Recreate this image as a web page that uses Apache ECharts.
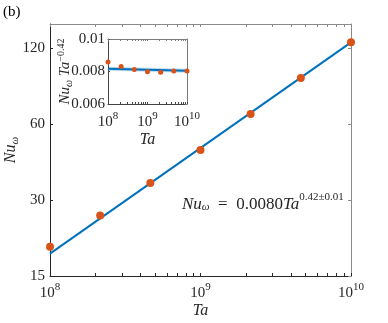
<!DOCTYPE html>
<html>
<head>
<meta charset="utf-8">
<script src="https://cdn.jsdelivr.net/npm/echarts@6/dist/echarts.min.js"></script>
<style>
  html, body { margin: 0; padding: 0; background: #fff; }
  #chart { width: 388px; height: 323px; }
</style>
</head>
<body>
<div id="chart"></div>
<script>
// data
var taValues = [1e8, 2.154e8, 4.642e8, 1e9, 2.154e9, 4.642e9, 1e10];
var nuValues = [19.6, 26.1, 35.1, 47.4, 65.9, 91.6, 127.0];
var compValues = [0.00859, 0.00831, 0.00813, 0.00799, 0.00795, 0.00803, 0.00803];
var fitTa = [1e8, 1e10];
var fitNu = [18.4, 126.8];
var fitComp = [0.00817, 0.00805];
var xDecades = [8, 9, 10];
var mainYTicks = [15, 30, 60, 120];
var insetYTicks = [0.006, 0.008, 0.01];

var SERIF = 'Liberation Serif, DejaVu Serif, serif';
var log10 = Math.log10;

// minor ticks at k*10^n (log axes drawn on log10 values)
var xTickVals = [];
xDecades.forEach(function (n, i) {
  if (i === xDecades.length - 1) { xTickVals.push(n); return; }
  for (var k = 1; k <= 9; k++) xTickVals.push(n + log10(k));
});

function pairs(xs, ys, fx, fy) {
  return xs.map(function (x, i) { return [fx(x), fy(ys[i])]; });
}
var ident = function (v) { return v; };

function powLabel(size) {
  return {
    customValues: xDecades,
    fontFamily: SERIF,
    color: '#262626',
    formatter: function (v) { return '{b|10}{s|' + Math.round(v) + '}'; },
    rich: {
      b: { fontFamily: SERIF, fontSize: size, lineHeight: size + 4, verticalAlign: 'bottom', color: '#262626' },
      s: { fontFamily: SERIF, fontSize: size - 4, lineHeight: size - 4, verticalAlign: 'top', color: '#262626' }
    }
  };
}

function boxAxis(gridIndex, position, ticks, color) {
  return {
    type: 'value', gridIndex: gridIndex, position: position,
    axisLine: { show: true, onZero: false, lineStyle: { color: color, width: 1 } },
    axisTick: { show: true, inside: true, length: 3, customValues: ticks, lineStyle: { color: color } },
    axisLabel: { show: false },
    splitLine: { show: false }
  };
}

var mainYMin = log10(15), mainYMax = log10(150);

var topMain = boxAxis(0, 'top', xTickVals, '#8a8a8a');
topMain.min = 8; topMain.max = 10;
var rightMain = boxAxis(0, 'right', mainYTicks.map(log10), '#8a8a8a');
rightMain.min = mainYMin; rightMain.max = mainYMax;
var topInset = boxAxis(1, 'top', xTickVals, '#7a7a7a');
topInset.min = 8; topInset.max = 10; topInset.axisTick.length = 2;
var rightInset = boxAxis(1, 'right', insetYTicks, '#7a7a7a');
rightInset.min = 0.006; rightInset.max = 0.01; rightInset.axisTick.length = 2;

var option = {
  animation: false,
  backgroundColor: '#fff',
  grid: [
    { left: 50, top: 24, width: 301, height: 252, containLabel: false, outerBoundsMode: 'none' },
    { left: 108, top: 39, width: 79, height: 65, containLabel: false, outerBoundsMode: 'none' }
  ],
  xAxis: [
    {
      type: 'value', gridIndex: 0, position: 'bottom', min: 8, max: 10,
      axisLine: { show: true, onZero: false, lineStyle: { color: '#262626' } },
      axisTick: { show: true, inside: true, length: 3, customValues: xTickVals, lineStyle: { color: '#262626' } },
      axisLabel: Object.assign(powLabel(15), { margin: 6 }),
      splitLine: { show: false },
      name: 'Ta', nameLocation: 'middle', nameGap: 27, nameMoveOverlap: false,
      nameTextStyle: { fontFamily: SERIF, fontStyle: 'italic', fontSize: 16, color: '#262626' }
    },
    topMain,
    {
      type: 'value', gridIndex: 1, position: 'bottom', min: 8, max: 10,
      axisLine: { show: true, onZero: false, lineStyle: { color: '#444' } },
      axisTick: { show: true, inside: true, length: 2, customValues: xTickVals, lineStyle: { color: '#444' } },
      axisLabel: Object.assign(powLabel(15), { margin: 7 }),
      splitLine: { show: false },
      name: 'Ta', nameLocation: 'middle', nameGap: 28, nameMoveOverlap: false,
      nameTextStyle: { fontFamily: SERIF, fontStyle: 'italic', fontSize: 16, color: '#262626' }
    },
    topInset
  ],
  yAxis: [
    {
      type: 'value', gridIndex: 0, position: 'left', min: mainYMin, max: mainYMax,
      axisLine: { show: true, onZero: false, lineStyle: { color: '#262626' } },
      axisTick: { show: true, inside: true, length: 3, customValues: mainYTicks.map(log10), lineStyle: { color: '#262626' } },
      axisLabel: {
        customValues: mainYTicks.map(log10), margin: 5,
        fontFamily: SERIF, fontSize: 15, color: '#262626',
        formatter: function (v) { return String(Math.round(Math.pow(10, v))); }
      },
      splitLine: { show: false },
      name: '{i|Nu}{w|ω}', nameLocation: 'middle', nameRotate: 90, nameGap: 29, nameMoveOverlap: false,
      nameTextStyle: {
        color: '#262626',
        rich: {
          i: { fontFamily: SERIF, fontStyle: 'italic', fontSize: 16, lineHeight: 18, verticalAlign: 'top', color: '#262626' },
          w: { fontFamily: SERIF, fontStyle: 'italic', fontSize: 11, lineHeight: 11, verticalAlign: 'bottom', color: '#262626' }
        }
      }
    },
    rightMain,
    {
      type: 'value', gridIndex: 1, position: 'left', min: 0.006, max: 0.01,
      axisLine: { show: true, onZero: false, lineStyle: { color: '#444' } },
      axisTick: { show: true, inside: true, length: 2, customValues: insetYTicks, lineStyle: { color: '#444' } },
      axisLabel: {
        customValues: insetYTicks, margin: 3,
        fontFamily: SERIF, fontSize: 15, color: '#262626',
        formatter: function (v) { return String(+v.toFixed(3)); }
      },
      splitLine: { show: false },
      name: '{i|Nu}{w|ω}{i| Ta}{s|−0.42}', nameLocation: 'middle', nameRotate: 90, nameGap: 34, nameMoveOverlap: false,
      nameTextStyle: {
        color: '#262626',
        rich: {
          i: { fontFamily: SERIF, fontStyle: 'italic', fontSize: 15, lineHeight: 18, verticalAlign: 'middle', color: '#262626' },
          w: { fontFamily: SERIF, fontStyle: 'italic', fontSize: 10, lineHeight: 10, verticalAlign: 'bottom', color: '#262626' },
          s: { fontFamily: SERIF, fontSize: 10, lineHeight: 10, verticalAlign: 'top', color: '#262626' }
        }
      }
    },
    rightInset
  ],
  series: [
    {
      type: 'line', xAxisIndex: 0, yAxisIndex: 0, showSymbol: false, z: 2,
      lineStyle: { color: '#0072BD', width: 2 },
      data: pairs(fitTa, fitNu, log10, log10)
    },
    {
      type: 'scatter', xAxisIndex: 0, yAxisIndex: 0, symbolSize: 8, z: 3,
      itemStyle: { color: '#D95319', opacity: 1 },
      data: pairs(taValues, nuValues, log10, log10)
    },
    {
      type: 'line', xAxisIndex: 2, yAxisIndex: 2, showSymbol: false, z: 2,
      lineStyle: { color: 'rgba(0,114,189,0.25)', width: 4 },
      data: pairs(fitTa, fitComp, log10, ident)
    },
    {
      type: 'line', xAxisIndex: 2, yAxisIndex: 2, showSymbol: false, z: 2,
      lineStyle: { color: '#0072BD', width: 2 },
      data: pairs(fitTa, fitComp, log10, ident)
    },
    {
      type: 'scatter', xAxisIndex: 2, yAxisIndex: 2, symbolSize: 5, z: 3,
      itemStyle: { color: '#D95319', opacity: 1 },
      data: pairs(taValues, compValues, log10, ident)
    }
  ],
  graphic: [
    {
      type: 'text', left: 3, top: 5,
      style: { text: '(b)', fontFamily: SERIF, fontSize: 15, fill: '#000' }
    },
    {
      type: 'text', left: 182, top: 192,
      style: {
        text: '{i|Nu}{w|ω}{r|  =  0.0080}{i|Ta}{s|0.42±0.01}',
        rich: {
          i: { fontFamily: SERIF, fontStyle: 'italic', fontSize: 17, lineHeight: 21, verticalAlign: 'bottom', fill: '#262626' },
          w: { fontFamily: SERIF, fontStyle: 'italic', fontSize: 11, lineHeight: 11, verticalAlign: 'bottom', fill: '#262626' },
          r: { fontFamily: SERIF, fontSize: 17, lineHeight: 21, verticalAlign: 'bottom', fill: '#262626' },
          s: { fontFamily: SERIF, fontSize: 11, lineHeight: 11, verticalAlign: 'top', fill: '#262626' }
        }
      }
    }
  ]
};

var chart = echarts.init(document.getElementById('chart'), null, { renderer: 'canvas' });
chart.setOption(option);
</script>
</body>
</html>
